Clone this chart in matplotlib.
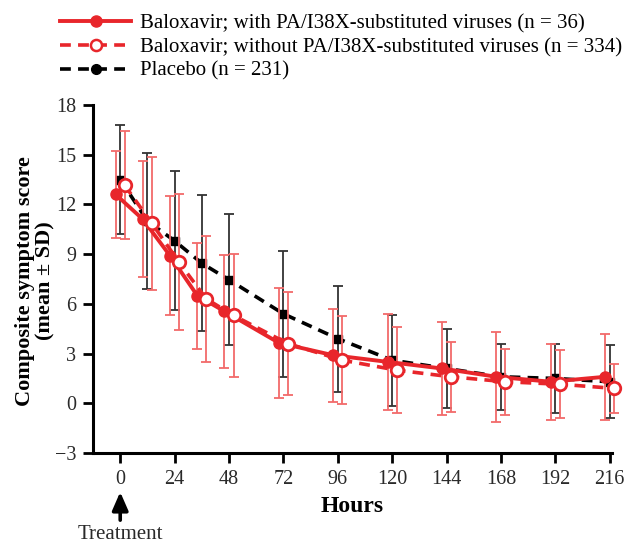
import matplotlib
matplotlib.use("Agg")
import matplotlib.pyplot as plt
from matplotlib.lines import Line2D

plt.rcParams["font.family"] = ["Liberation Serif", "DejaVu Serif"]

hours = [0, 12, 24, 36, 48, 72, 96, 120, 144, 168, 192, 216]

# Baloxavir, with PA/I38X-substituted viruses
with_mean = [12.6, 11.1, 8.9, 6.5, 5.55, 3.65, 2.9, 2.5, 2.1, 1.6, 1.3, 1.6]
with_sd = [2.6, 3.5, 3.6, 3.2, 3.4, 3.3, 2.8, 2.9, 2.8, 2.7, 2.3, 2.6]

# Baloxavir, without PA/I38X-substituted viruses
without_mean = [13.15, 10.85, 8.5, 6.3, 5.3, 3.6, 2.6, 2.0, 1.6, 1.3, 1.15, 0.9]
without_sd = [3.25, 4.0, 4.1, 3.8, 3.7, 3.1, 2.65, 2.6, 2.1, 2.0, 2.05, 1.5]

# Placebo
placebo_mean = [13.5, 11.0, 9.8, 8.45, 7.45, 5.4, 3.9, 2.6, 2.1, 1.6, 1.5, 1.3]
placebo_sd = [3.3, 4.1, 4.2, 4.1, 3.95, 3.8, 3.2, 2.75, 2.4, 2.0, 2.1, 2.2]

labels = ["Baloxavir; with PA/I38X-substituted viruses (n = 36)",
          "Baloxavir; without PA/I38X-substituted viruses (n = 334)",
          "Placebo (n = 231)"]
xticks = [0, 24, 48, 72, 96, 120, 144, 168, 192, 216]
yticks = [-3, 0, 3, 6, 9, 12, 15, 18]

red = "#e8262b"
red_bar = "#f26a6a"

fig = plt.figure(figsize=(6.26, 5.43), dpi=100)
ax = fig.add_axes([0.1486, 0.1657, 0.829, 0.641])

# small horizontal offsets so the groups don't overlap
x_with = [h - 2 for h in hours]
x_pla = [h for h in hours]
x_without = [h + 2 for h in hours]

eb = ax.errorbar(x_pla, placebo_mean, yerr=placebo_sd, fmt="none", ecolor="#333333",
                 elinewidth=1.3, capsize=3.7, capthick=1.3, zorder=2)
ax.plot(x_pla, placebo_mean, color="black", ls=(0, (3, 2)), lw=2.6,
        marker="s", ms=6, zorder=3, clip_on=False)

ax.errorbar(x_with, with_mean, yerr=with_sd, fmt="none", ecolor=red_bar,
            elinewidth=1.3, capsize=3.7, capthick=1.3, zorder=4)
ax.errorbar(x_without, without_mean, yerr=without_sd, fmt="none", ecolor=red_bar,
            elinewidth=1.3, capsize=3.7, capthick=1.3, zorder=4)
ax.plot(x_with, with_mean, color=red, lw=2.8, marker="o", ms=8, zorder=5,
        clip_on=False)
ax.plot(x_without, without_mean, color=red, ls=(0, (3, 2)), lw=2.6,
        marker="o", ms=9, mfc="white", mec=red, mew=2, zorder=6, clip_on=False)

# keep the last error bars from being cut at the right edge
for art in ax.collections + ax.lines:
    art.set_clip_on(False)

ax.set_xlim(-12, 217)
ax.set_ylim(-3, 18)
ax.set_xticks(xticks)
ax.set_yticks(yticks)
ax.set_yticklabels(["\u22123" if v == -3 else str(v) for v in yticks])

for s in ["top", "right"]:
    ax.spines[s].set_visible(False)
for s in ["left", "bottom"]:
    ax.spines[s].set_linewidth(2.2)
ax.tick_params(width=2, length=7, labelsize=14.5, labelcolor="#2a2a2a", pad=5)

ax.set_xlabel("Hours", fontsize=17, fontweight="bold", labelpad=5)
fig.text(35 / 626, 1 - 281 / 543, "Composite symptom score\n(mean \u00b1 SD)",
         rotation=90, ha="center", va="center", multialignment="center",
         fontsize=16, fontweight="bold", linespacing=1.0)

# treatment arrow under x = 0
ax.annotate("", xy=(0, -5.35), xytext=(0, -7.05), xycoords="data",
            arrowprops=dict(arrowstyle="-|>,head_width=0.24,head_length=0.55",
                            mutation_scale=20, color="black", lw=2.6,
                            shrinkA=0, shrinkB=0),
            annotation_clip=False)
ax.text(0, -8.2, "Treatment", ha="center", va="baseline", fontsize=15,
        color="#2a2a2a", clip_on=False)

handles = [
    Line2D([], [], color=red, lw=2.8, marker="o", ms=8),
    Line2D([], [], color=red, lw=2.6, ls=(0, (3, 2)), marker="o", ms=8,
           mfc="white", mec=red, mew=1.8),
    Line2D([], [], color="black", lw=2.6, ls=(0, (3, 2)), marker="o", ms=7),
]
fig.legend(handles, labels, loc="upper left", bbox_to_anchor=(0.083, 0.99),
           frameon=False, fontsize=15, handlelength=3.4, handletextpad=0.45,
           labelspacing=0.2, borderaxespad=0)

fig.savefig("out.png", dpi=100)
